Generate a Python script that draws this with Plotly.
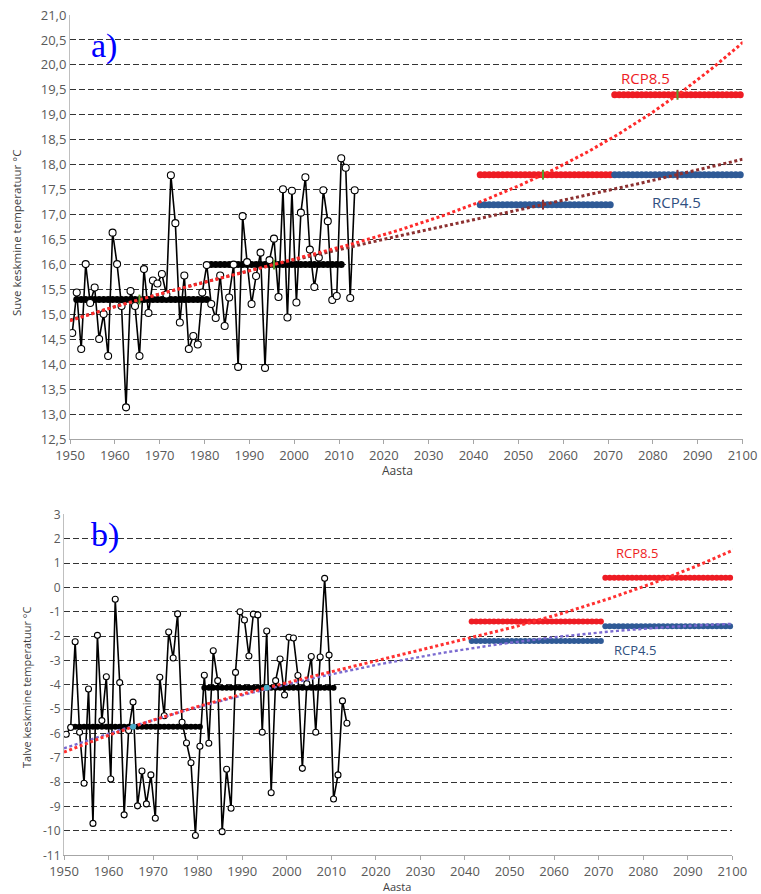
import numpy as np
import plotly.graph_objects as go

W, H = 761, 894

# --- observed seasonal means, Estonia ---
years = list(range(1950, 2014))
summer = [14.63, 15.44, 14.31, 16.01, 15.23, 15.54, 14.51, 15.01, 14.17, 16.64,
          16.01, 15.17, 13.14, 15.47, 15.17, 14.17, 15.91, 15.03, 15.68, 15.62,
          15.81, 15.40, 17.79, 16.83, 14.84, 15.78, 14.31, 14.57, 14.40, 15.44,
          15.99, 15.21, 14.93, 15.78, 14.77, 15.34, 16.00, 13.95, 16.97, 16.05,
          15.21, 15.77, 16.24, 13.93, 16.09, 16.52, 15.35, 17.51, 14.94, 17.48,
          15.24, 17.04, 17.75, 16.30, 15.55, 16.14, 17.49, 16.87, 15.29, 15.37,
          18.13, 17.94, 15.33, 17.49]
winter = [-6.03, -5.75, -2.23, -5.95, -8.04, -4.17, -9.69, -1.97, -5.47, -3.67,
          -7.87, -0.49, -3.91, -9.34, -5.88, -4.71, -8.97, -7.54, -8.89, -7.70,
          -9.48, -3.69, -5.27, -1.83, -2.90, -1.09, -5.54, -6.39, -7.20, -10.19,
          -6.52, -3.61, -6.40, -2.60, -3.83, -10.03, -7.47, -9.07, -3.49, -1.00,
          -1.34, -2.82, -1.10, -1.13, -5.95, -1.79, -8.43, -3.83, -2.94, -4.42,
          -2.05, -2.08, -3.62, -7.43, -3.95, -2.84, -5.95, -2.86, 0.37, -2.78,
          -8.69, -7.70, -4.66, -5.58]

# --- 30-year period means: observed and scenario projections ---
periods = [(1951, 1980), (1981, 2010), (2041, 2070), (2071, 2100)]
mid_years = [1965, 1995, 2055, 2085]
summer_obs = [15.3, 16.0]
summer_rcp85 = [17.8, 19.4]
summer_rcp45 = [17.2, 17.8]
winter_obs = [-5.72, -4.12]
winter_rcp85 = [-1.4, 0.4]
winter_rcp45 = [-2.2, -1.6]

# category-axis style: each year is centred between ticks
OFF = 0.5

RED = "#ee1c24"
BLUE = "#2f5a96"
GRID = "#333333"
AXIS = "#a6a6a6"
TICK_FONT = dict(family="Open Sans", size=13, color="#595959")


def px(x):
    return x / W


def py(y):
    return 1 - y / H


fig = go.Figure()


def period_bar(p, val, color, xa, ya, size):
    xs = np.arange(p[0], p[1] + 1) + OFF
    fig.add_trace(go.Scatter(
        x=xs, y=[val] * len(xs), mode="lines+markers", xaxis=xa, yaxis=ya,
        line=dict(color=color, width=size - 2),
        marker=dict(color=color, size=size, line=dict(width=0)),
        cliponaxis=False, showlegend=False, hoverinfo="skip"))


def trend(vals, deg, color, xa, ya, width=3.0):
    xm = np.array(mid_years) + OFF
    coef = np.polyfit(xm - 2000, vals, deg)
    xx = np.linspace(1950, 2100.5, 400)
    fig.add_trace(go.Scatter(
        x=xx, y=np.polyval(coef, xx - 2000), mode="lines", xaxis=xa, yaxis=ya,
        line=dict(color=color, width=width, dash="3px,2.6px"),
        showlegend=False, hoverinfo="skip"))


def mid_marks(idx, vals, color, xa, ya, symbol="line-ns", size=7):
    fig.add_trace(go.Scatter(
        x=[mid_years[i] + OFF for i in idx], y=[vals[i] for i in idx],
        mode="markers", xaxis=xa, yaxis=ya,
        marker=dict(symbol=symbol, size=size, color=color,
                    line=dict(color=color, width=2)),
        cliponaxis=False, showlegend=False, hoverinfo="skip"))


def panel(series, obs, r85, r45, xa, ya, bar, msize):
    # observed period means
    for p, v in zip(periods[:2], obs):
        period_bar(p, v, "black", xa, ya, bar)
    # projections: RCP8.5 first, RCP4.5 on top
    for p, v in zip(periods[2:], r85):
        period_bar(p, v, RED, xa, ya, bar)
    for p, v in zip(periods[2:], r45):
        period_bar(p, v, BLUE, xa, ya, bar)
    # annual values
    fig.add_trace(go.Scatter(
        x=np.array(years) + OFF, y=series, mode="lines+markers",
        xaxis=xa, yaxis=ya,
        line=dict(color="black", width=1.6),
        marker=dict(symbol="circle", size=msize, color="white",
                    line=dict(color="black", width=1.1)),
        showlegend=False))
    return obs + r85, obs + r45


# ---------- a) summer ----------
s85, s45 = panel(summer, summer_obs, summer_rcp85, summer_rcp45, "x", "y", 7, 7)
trend(s45, 3, "#8c3030", "x", "y")
trend(s85, 3, "#ff2a2a", "x", "y")
mid_marks([0, 1, 2, 3], s85, "#5a9a2e", "x", "y")
mid_marks([2, 3], s45, "#8c3030", "x", "y")

# ---------- b) winter ----------
w85, w45 = panel(winter, winter_obs, winter_rcp85, winter_rcp45, "x2", "y2", 6, 6)
trend(w45, 2, "#7a6ad0", "x2", "y2", width=2.4)
trend(w85, 3, "#ff3030", "x2", "y2")
mid_marks([0, 1], w85, "#4bacc6", "x2", "y2", symbol="circle", size=4)

# ---------- axes ----------
xticks = list(range(1950, 2101, 10))
top_y = [12.5 + 0.5 * i for i in range(18)]
bot_y = list(range(-11, 4))

xcommon = dict(range=[1950, 2100], tickvals=xticks, ticktext=[str(t) for t in xticks],
               showgrid=False, zeroline=False, showline=True, linecolor=AXIS,
               linewidth=1, ticks="outside", ticklen=4, tickcolor=AXIS,
               tickfont=TICK_FONT, fixedrange=True, automargin=False)
ycommon = dict(showgrid=True, gridcolor=GRID, griddash="6px,3px", gridwidth=1.4,
               zeroline=False, showline=True, linecolor="#bfbfbf", linewidth=1,
               ticks="", tickfont=TICK_FONT, fixedrange=True, automargin=False)

fig.update_layout(
    width=W, height=H,
    margin=dict(l=0, r=0, t=0, b=0),
    paper_bgcolor="white", plot_bgcolor="white",
    xaxis=dict(domain=[px(70), px(742.5)], anchor="y", **xcommon),
    yaxis=dict(domain=[py(439.3), py(15)], anchor="x", range=[12.5, 21.0],
               tickvals=top_y, ticktext=[f"{v:.1f}".replace(".", ",") for v in top_y],
               **ycommon),
    xaxis2=dict(domain=[px(64), px(732.3)], anchor="y2", **xcommon),
    yaxis2=dict(domain=[py(855.3), py(514.3)], anchor="x2", range=[-11, 3],
                tickvals=bot_y, ticktext=[str(v) for v in bot_y],
                **{**ycommon, "tickfont": dict(TICK_FONT, size=12)}),
)

ann = []


def label(text, x, y, size, color, family="Open Sans", angle=0):
    ann.append(dict(text=text, x=px(x), y=py(y), xref="paper", yref="paper",
                    showarrow=False, textangle=angle,
                    font=dict(family=family, size=size, color=color),
                    xanchor="center", yanchor="middle"))


label("a)", 104, 46, 34, "#0000ff", family="Liberation Serif")
label("b)", 105, 535, 34, "#0000ff", family="Liberation Serif")
label("RCP8.5", 645, 78, 15, RED)
label("RCP4.5", 676, 202, 15, "#2f4f7f")
label("RCP8.5", 637, 553, 13, RED)
label("RCP4.5", 635, 650, 13, "#2f4f7f")
label("Aasta", 397, 470, 12, "#404040")
label("Aasta", 397, 886, 11, "#404040")
label("Suve keskmine temperatuur °C", 17, 233, 11.5, "#404040", angle=-90)
label("Talve keskmine temperatuur °C", 26, 688, 11, "#404040", angle=-90)

fig.update_layout(annotations=ann)

fig.write_html("out.html")
